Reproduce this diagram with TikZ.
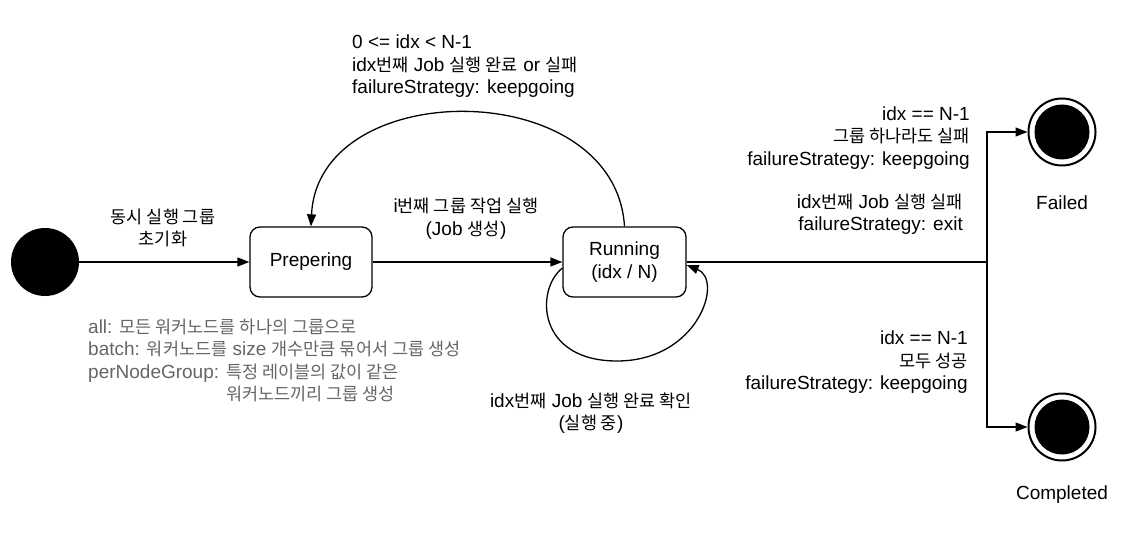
\documentclass[tikz,border=0pt]{standalone}
\usepackage{fontspec}
\setmainfont{Liberation Sans}
\newfontfamily\krfont{Noto Sans CJK KR}[Scale=0.92]
\newcommand\hk[1]{{\krfont #1}}
\usetikzlibrary{arrows.meta,calc}
\definecolor{notegray}{RGB}{102,102,102}
\begin{document}
\begin{tikzpicture}[x=1pt,y=-1pt,
  every node/.style={font=\fontsize{19}{22.5}\selectfont},
  lbl/.style={inner sep=0pt, align=center},
  statebox/.style={draw, line width=1.3pt, rounded corners=10pt, minimum width=122pt, minimum height=70pt, inner sep=0pt, align=center},
  arr/.style={line width=1.3pt, -{Triangle[length=12pt,width=9pt]}},
  plain/.style={line width=1.3pt},
  initdot/.style={circle, fill=black, minimum size=68pt, inner sep=0pt},
  endouter/.style={circle, draw, line width=2pt, minimum size=67pt, inner sep=0pt},
  endinner/.style={circle, fill=black, minimum size=55pt, inner sep=0pt}
]
\fill[white] (0,0) rectangle (1137,548);
\useasboundingbox (0,0) rectangle (1137,548);

% states
\node[initdot] (init) at (45,262) {};
\node[statebox] (prep) at (311,262) {Prepering};
\node[statebox, minimum width=123pt] (run) at (624.5,262) {Running\\(idx / N)};
\node[endouter] (failed) at (1062,132) {};
\node[endinner] (failedin) at (failed) {};
\node[endouter] (comp) at (1062,427) {};
\node[endinner] (compin) at (comp) {};
\coordinate (split) at (987,262);

% connectors
\draw[arr] (init) -- (prep);
\draw[arr] (prep) -- (run);
\draw[arr] (run.north) .. controls (615,75) and (318,75) .. (prep.north);
\draw[arr] ($(run.west)+(0,6)$) .. controls (535,290) and (537,361) .. (617,361)
   .. controls (698,361) and (724,280) .. ($(run.east)+(0,3)$);
\draw[plain] (run.east) -- (split);
\draw[arr] (split) |- (failed);
\draw[arr] (split) |- (comp);

% labels
\node[lbl] (l1) at (163,228) {\hk{동시 실행 그룹}\\\hk{초기화}};
\node[lbl] (l2) at (466,218.5) {i\hk{번째 그룹 작업 실행}\\(Job \hk{생성})};
\node[lbl, align=left, anchor=west] (l3) at (352,66.5) {0 <= idx < N-1\\idx\hk{번째} Job \hk{실행 완료} or \hk{실패}\\failureStrategy: keepgoing};
\node[lbl] (l4) at (591,413) {idx\hk{번째} Job \hk{실행 완료 확인}\\(\hk{실행 중})};
\node[lbl, align=right, anchor=east] (l5) at (970,138) {idx == N-1\\\hk{그룹 하나라도 실패}\\failureStrategy: keepgoing};
\node[lbl, align=right, anchor=east] (l6) at (963,214) {idx\hk{번째} Job \hk{실행 실패}\\failureStrategy: exit};
\node[lbl, align=right, anchor=east] (l7) at (968,362.5) {idx == N-1\\\hk{모두 성공}\\failureStrategy: keepgoing};
\node[lbl] (l8) at (1062,203) {Failed};
\node[lbl] (l9) at (1062,495) {Completed};
\node[lbl, align=left, anchor=west, text=notegray] (note) at (88,361.5) {all: \hk{모든 워커노드를 하나의 그룹으로}\\batch: \hk{워커노드를} size \hk{개수만큼 묶어서 그룹 생성}\\perNodeGroup: \hk{특정 레이블의 값이 같은}\\\phantom{perNodeGroup: }\hk{워커노드끼리 그룹 생성}};
\end{tikzpicture}
\end{document}
